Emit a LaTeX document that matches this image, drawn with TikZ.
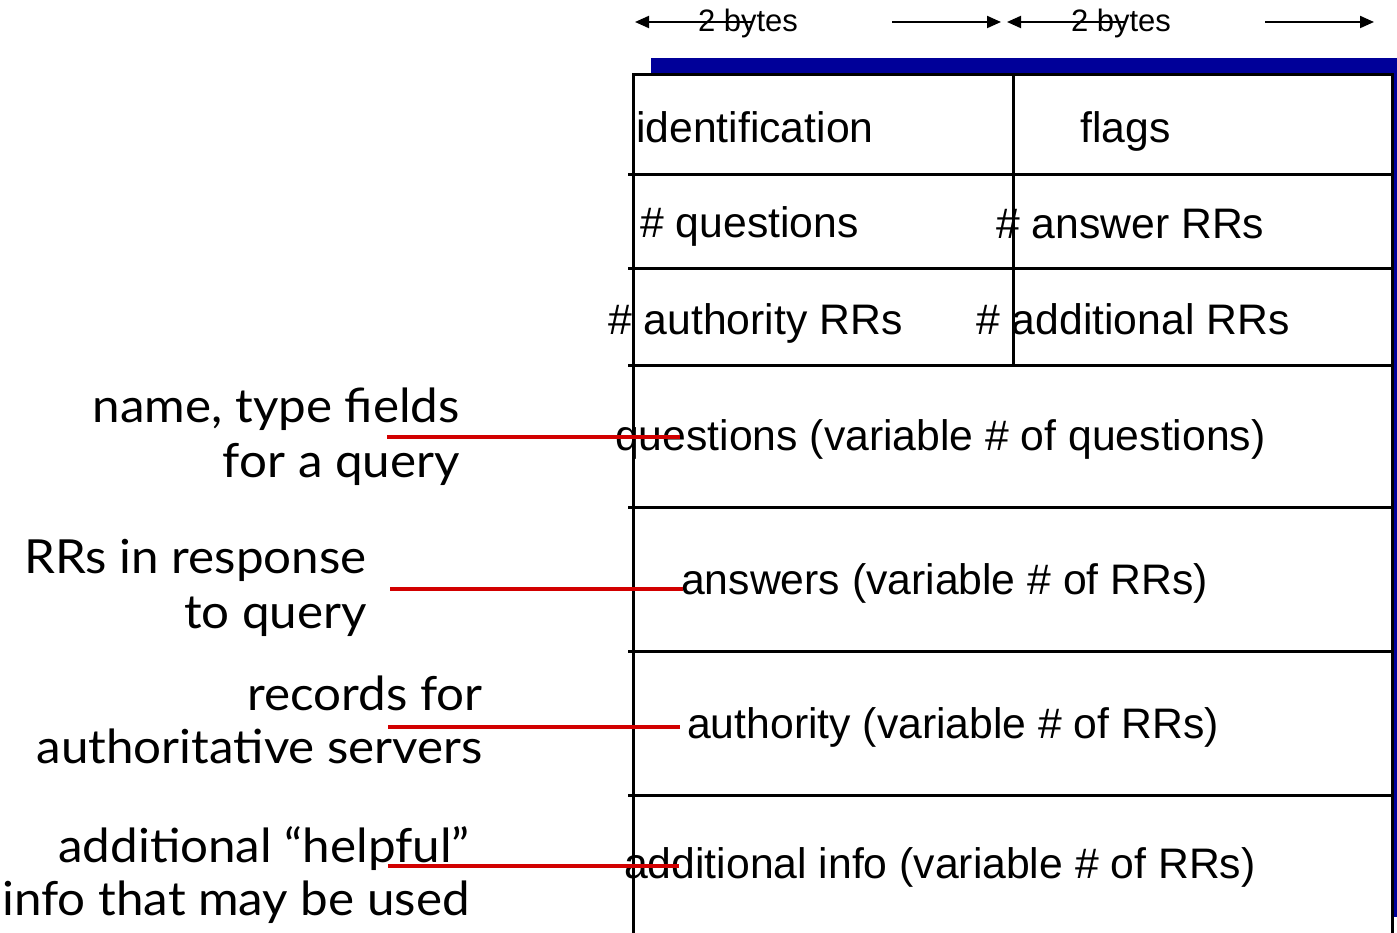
\documentclass[tikz,border=0pt]{standalone}
\usepackage{fontspec}
\setmainfont{Liberation Sans}
\newfontfamily\notefont[FakeStretch=1.05]{Lato}
\usetikzlibrary{arrows.meta}
\definecolor{shadowblue}{RGB}{0,0,153}
\definecolor{callred}{RGB}{210,0,0}
\begin{document}
\begin{tikzpicture}[x=1pt,y=-1pt,
  field/.style={inner sep=0pt, font=\fontsize{42.7}{50}\selectfont, anchor=base west},
  note/.style={inner sep=0pt, font=\notefont\fontsize{47}{55}\selectfont, anchor=base east},
  rule/.style={line width=3pt},
  callout/.style={draw=callred, line width=4pt},
  span/.style={line width=2pt, -{Triangle[length=14pt,width=12pt]}},
  bytes/.style={inner sep=0pt, font=\fontsize{31}{36}\selectfont, anchor=base}]
\useasboundingbox (0,0) rectangle (1397,933);
\clip (0,0) rectangle (1397,933);
% shadow and box
\fill[shadowblue] (651,58) rectangle (1420,917);
\fill[white] (633,75) rectangle (1392,945);
\draw[rule] (633,945) -- (633,75) -- (1392,75) -- (1392,945);
\foreach \yy in {175,269,365,507,651,795}
  \draw[rule] (628,\yy) -- (1392,\yy);
\draw[rule] (1013,75) -- (1013,365);
% byte spans
\node[bytes] (b1) at (748,32) {2 bytes};
\node[bytes] (b2) at (1121,32) {2 bytes};
\coordinate (s1a) at (752,22); \coordinate (s1b) at (635,22);
\coordinate (s1c) at (892,22); \coordinate (s1d) at (1001,22);
\coordinate (s2a) at (1125,22); \coordinate (s2b) at (1007,22);
\coordinate (s2c) at (1265,22); \coordinate (s2d) at (1374,22);
\draw[span] (s1a) -- (s1b);
\draw[span] (s1c) -- (s1d);
\draw[span] (s2a) -- (s2b);
\draw[span] (s2c) -- (s2d);
% fields
\node[field] (id) at (636,143) {identification};
\node[field] (fl) at (1080,143) {flags};
\node[field] (nq) at (640,238) {\# questions};
\node[field] (na) at (996,239) {\# answer RRs};
\node[field] (nau) at (608,334) {\# authority RRs};
\node[field] (nad) at (976,334) {\# additional RRs};
\node[field] (qs) at (615,450) {questions (variable \# of questions)};
\node[field] (an) at (681,594) {answers (variable \# of RRs)};
\node[field] (au) at (687,738) {authority (variable \# of RRs)};
\node[field] (ad) at (624,878) {additional info (variable \# of RRs)};
% notes
\node[note] (n1a) at (460,422) {name, type fields};
\node[note] (n1b) at (460,477) {for a query};
\node[note] (n2a) at (367,573) {RRs in response};
\node[note] (n2b) at (367,628) {to query};
\node[note] (n3a) at (483,710) {records for};
\node[note] (n3b) at (483,763) {authoritative servers};
\node[note] (n4a) at (470,862) {additional “helpful”};
\node[note] (n4b) at (470,915) {info that may be used};
% callouts
\coordinate (c1) at (387,437); \coordinate (e1) at (680,437);
\coordinate (c2) at (390,589); \coordinate (e2) at (683,589);
\coordinate (c3) at (388,727); \coordinate (e3) at (680,727);
\coordinate (c4) at (388,866); \coordinate (e4) at (679,866);
\draw[callout] (c1) -- (e1);
\draw[callout] (c2) -- (e2);
\draw[callout] (c3) -- (e3);
\draw[callout] (c4) -- (e4);
\end{tikzpicture}
\end{document}
